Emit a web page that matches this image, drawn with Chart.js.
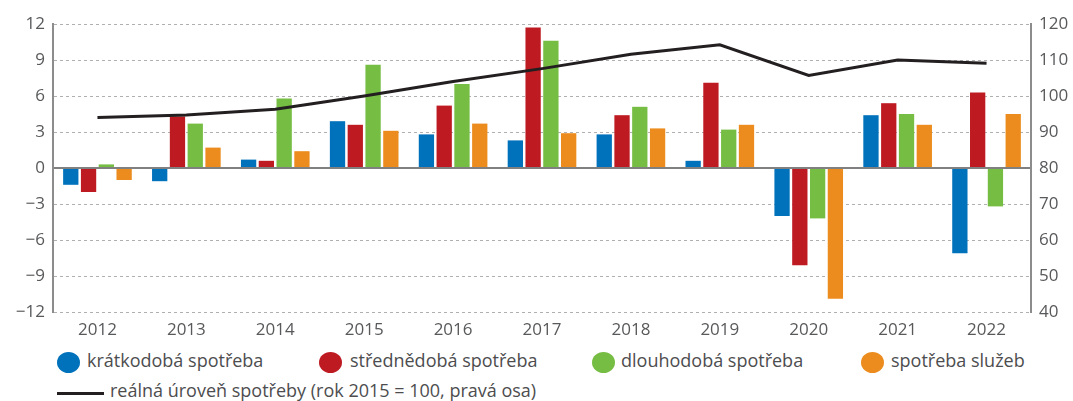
<!DOCTYPE html>
<html>
	<head>
		<meta charset="utf-8">
		<script src="https://cdn.jsdelivr.net/npm/chart.js"></script>
		<title>Spotřeba</title>
	</head>
	<body>

		<div class="wrap">
			<canvas id="chart1" width="1073" height="340"></canvas>

			<i class="dot" style="left:57px; background:#0071bb"></i>
			<span class="txt" style="left:87px; top:350px">krátkodobá spotřeba</span>
			<i class="dot" style="left:319px; background:#be1a22"></i>
			<span class="txt" style="left:350px; top:350px">střednědobá spotřeba</span>
			<i class="dot" style="left:592px; background:#76bd43"></i>
			<span class="txt" style="left:621px; top:350px">dlouhodobá spotřeba</span>
			<i class="dot" style="left:861px; background:#ec8c1e"></i>
			<span class="txt" style="left:891px; top:350px">spotřeba služeb</span>

			<b class="ln"></b>
			<span class="txt" style="left:110px; top:380px">reálná úroveň spotřeby (rok 2015 = 100, pravá osa)</span>
		</div>

<script>

	// roky
	var years = ['2012','2013','2014','2015','2016','2017','2018','2019','2020','2021','2022']

	// meziroční změny v % (levá osa)
	var kratkodoba = [-1.4, -1.1, 0.7, 3.9, 2.8, 2.3, 2.8, 0.6, -4.0, 4.4, -7.1]
	var strednedoba = [-2.0, 4.3, 0.6, 3.6, 5.2, 11.7, 4.4, 7.1, -8.1, 5.4, 6.3]
	var dlouhodoba = [0.3, 3.7, 5.8, 8.6, 7.0, 10.6, 5.1, 3.2, -4.2, 4.5, -3.2]
	var sluzby = [-1.0, 1.7, 1.4, 3.1, 3.7, 2.9, 3.3, 3.6, -10.9, 3.6, 4.5]

	// reálná úroveň spotřeby, 2015 = 100 (pravá osa)
	var uroven = [94.0, 94.7, 96.3, 100.0, 104.0, 107.6, 111.6, 114.2, 105.7, 110.0, 109.1]

	var font = {family: 'Open Sans', size: 17}
	var textColor = '#58595b'

	function bar(label, data, color){
		return {type: 'bar', label: label, data: data, backgroundColor: color, yAxisID: 'y',
			categoryPercentage: 0.8, barPercentage: 0.86, order: 2}
	}

	var ctx = document.getElementById('chart1').getContext('2d');
	var chart1 = new Chart(ctx, {
		data: {
			labels: years,
			datasets: [
				{type: 'line', label: 'reálná úroveň spotřeby', data: uroven, yAxisID: 'y1',
				 borderColor: '#231f20', borderWidth: 3, pointRadius: 0, tension: 0, order: 1},
				bar('krátkodobá spotřeba', kratkodoba, '#0071bb'),
				bar('střednědobá spotřeba', strednedoba, '#be1a22'),
				bar('dlouhodobá spotřeba', dlouhodoba, '#76bd43'),
				bar('spotřeba služeb', sluzby, '#ec8c1e')
			]
		},
		options: {
			responsive: false,
			animation: false,
			layout: {padding: {top: 24, left: 0, right: 0, bottom: 0}},
			plugins: {legend: {display: false}, tooltip: {enabled: false}},
			scales: {
				x: {
					grid: {display: false},
					border: {display: false},
					ticks: {color: textColor, font: font, padding: 0, maxRotation: 0, autoSkip: false},
					afterFit: function(s){ s.height = 28 }
				},
				y: {
					position: 'left', min: -12, max: 12,
					ticks: {stepSize: 3, color: textColor, font: font, padding: 8,
						callback: function(v){ return String(v).replace('-', '\u2212') }},
					grid: {
						color: function(c){ return c.tick && c.tick.value === 0 ? '#808080' : '#b0b0b0' },
						lineWidth: function(c){ return c.tick && c.tick.value === 0 ? 2 : 1 },
						drawTicks: false
					},
					border: {display: true, color: '#8c8c8c', width: 2,
						dash: function(c){ return c.tick && c.tick.value === 0 ? [] : [3, 3] }},
					afterFit: function(s){ s.width = 53 }
				},
				y1: {
					position: 'right', min: 40, max: 120,
					ticks: {stepSize: 10, color: textColor, font: font, padding: 8},
					grid: {drawOnChartArea: false, drawTicks: false},
					border: {display: true, color: '#8c8c8c', width: 2},
					afterFit: function(s){ s.width = 42 }
				}
			}
		}
	});

</script>
	</body>
</html>

<style>
	body{ margin: 0; background: #ffffff; }
	.wrap{ width: 1073px; height: 401px; position: relative; overflow: hidden; }
	.wrap canvas{ position: absolute; left: 0; top: 0; width: 1073px; height: 340px; }
	.dot{ position: absolute; top: 352px; width: 23px; height: 21px; border-radius: 50%; }
	.txt{ position: absolute; white-space: nowrap; font-family: 'Open Sans'; font-size: 18px; line-height: 20px; color: #4d4d4f; }
	.ln{ position: absolute; left: 57px; top: 392px; width: 47px; height: 3px; background: #231f20; }
</style>
